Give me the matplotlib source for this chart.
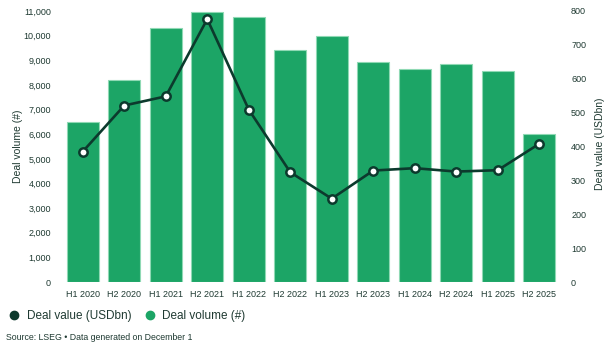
import matplotlib.pyplot as plt
import numpy as np
from matplotlib.lines import Line2D

# Half-year deal volume (bars) and deal value (line)

periods = ['H1 2020', 'H2 2020', 'H1 2021', 'H2 2021', 'H1 2022', 'H2 2022',
           'H1 2023', 'H2 2023', 'H1 2024', 'H2 2024', 'H1 2025', 'H2 2025']
deal_volume = [6490, 8200, 10290, 10970, 10750, 9400,
               9990, 8930, 8640, 8830, 8570, 6020]
deal_value = [385, 521, 548, 776, 509, 324,
              246, 329, 336, 326, 330, 408]

bar_green = '#1ca566'
dark = '#0c3a2d'
text_col = '#1f3a32'

plt.rcParams['font.family'] = ['Liberation Sans Narrow', 'Liberation Sans', 'DejaVu Sans']

fig = plt.figure(figsize=(6.07, 3.5), dpi=100)
ax = fig.add_axes([62 / 607, 1 - 282 / 350, 498 / 607, 271 / 350])
ax2 = ax.twinx()

x = np.arange(len(periods))
ax.bar(x, deal_volume, width=0.78, color=bar_green, edgecolor='#8fd9b4', linewidth=0.8, zorder=2)
ax2.plot(x, deal_value, color=dark, linewidth=1.9, marker='o', markersize=6,
         markerfacecolor='white', markeredgecolor=dark, markeredgewidth=1.8, zorder=3)

ax.set_xlim(-0.5, len(periods) - 0.5)
ax.set_ylim(0, 11000)
ax2.set_ylim(0, 800)
ax.set_yticks(range(0, 11001, 1000))
ax.set_yticklabels([f'{v:,}' for v in range(0, 11001, 1000)])
ax2.set_yticks(range(0, 801, 100))
ax.set_xticks(x)
ax.set_xticklabels(periods)

for a in (ax, ax2):
    for s in a.spines.values():
        s.set_visible(False)
    a.tick_params(length=0, labelsize=6.5, colors=text_col)
ax.tick_params(axis='x', pad=6)
ax.tick_params(axis='y', pad=8)
ax2.tick_params(axis='y', pad=8)

ax.set_ylabel('Deal volume (#)', fontsize=7.5, color=text_col)
ax2.set_ylabel('Deal value (USDbn)', fontsize=7.5, color=text_col)
ax.yaxis.set_label_coords(-0.078, 0.5)
ax2.yaxis.set_label_coords(1.07, 0.51)

handles = [
    Line2D([], [], marker='o', linestyle='none', markersize=6, color=dark, label='Deal value (USDbn)'),
    Line2D([], [], marker='o', linestyle='none', markersize=6, color=bar_green, label='Deal volume (#)'),
]
fig.legend(handles=handles, loc='center left', bbox_to_anchor=(0.0, 1 - 316 / 350),
           ncol=2, frameon=False, fontsize=8.5, handletextpad=0.05, columnspacing=0.6,
           labelcolor=text_col, borderaxespad=0, borderpad=0.2)

fig.text(6 / 607, 1 - 337 / 350, 'Source: LSEG • Data generated on December 1',
         fontsize=6.3, color=text_col, va='center')

fig.savefig('out.png', dpi=100)
